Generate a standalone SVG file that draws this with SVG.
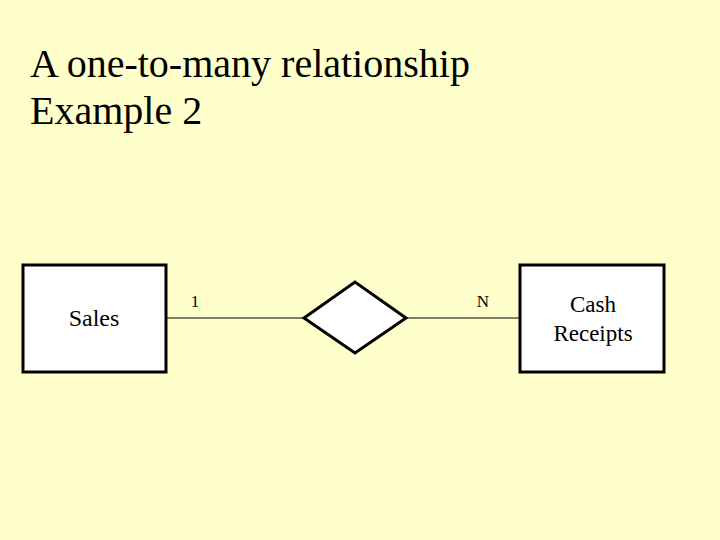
<svg xmlns="http://www.w3.org/2000/svg" width="720" height="540" viewBox="0 0 720 540">
<style>
text{font-family:'Liberation Serif','Times New Roman',serif;fill:#000}
.ent{fill:#fff;stroke:#000;stroke-width:3}
.ln{stroke:#000;stroke-width:1;fill:none}
</style>
<rect width="720" height="540" fill="#FFFFCC"/>
<text x="30" y="77" font-size="40">A one-to-many relationship</text>
<text x="30" y="124" font-size="40">Example 2</text>
<g id="connectors">
<line class="ln" x1="166" y1="318" x2="303" y2="318"/>
<line class="ln" x1="406" y1="318" x2="520" y2="318"/>
<text x="195" y="307" font-size="17" text-anchor="middle">1</text>
<text x="483" y="307" font-size="17" text-anchor="middle">N</text>
</g>
<g id="sales">
<rect class="ent" x="23" y="265" width="143" height="107"/>
<text x="94" y="326" font-size="24" text-anchor="middle">Sales</text>
</g>
<g id="relationship">
<polygon class="ent" points="304,318 355,282 406,318 355,353" stroke-width="2.5"/>
</g>
<g id="cash-receipts">
<rect class="ent" x="520" y="265" width="144" height="107"/>
<text x="593" y="312" font-size="23" text-anchor="middle">Cash</text>
<text x="593" y="341" font-size="23" text-anchor="middle">Receipts</text>
</g>
</svg>
